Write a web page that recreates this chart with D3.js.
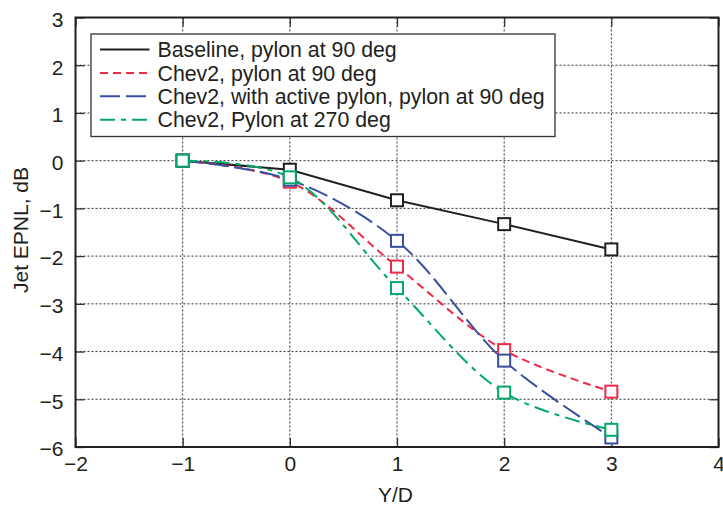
<!DOCTYPE html>
<html>
<head>
<meta charset="utf-8">
<script src="https://cdn.jsdelivr.net/npm/d3@7"></script>
<style>
  html, body { margin: 0; padding: 0; background: #fff; }
  svg { display: block; font-family: "Liberation Sans", Arial, Helvetica, sans-serif; }
</style>
</head>
<body>
<svg id="chart" width="723" height="508"></svg>
<script>
// Jet EPNL change versus pylon offset Y/D
const positions = [-1, 0, 1, 2, 3];
const seriesNames = [
  "Baseline, pylon at 90 deg",
  "Chev2, pylon at 90 deg",
  "Chev2, with active pylon, pylon at 90 deg",
  "Chev2, Pylon at 270 deg"
];
const baseline    = [0, -0.19, -0.83, -1.33, -1.86];
const chev2       = [0, -0.44, -2.22, -3.97, -4.84];
const chev2Active = [0, -0.40, -1.68, -4.19, -5.80];
const chev2P270   = [0, -0.35, -2.67, -4.86, -5.64];
const xTicks = [-2, -1, 0, 1, 2, 3, 4];
const yTicks = [3, 2, 1, 0, -1, -2, -3, -4, -5, -6];

const colors = ["#231f20", "#ee2a44", "#3a4fa0", "#00a968"];
const dashes = ["none", "8,5", "20,6", "15,6,5,6"];
const values = [baseline, chev2, chev2Active, chev2P270];

const svg = d3.select("#chart");
const L = 75.5, R = 718.5, T = 17.5, B = 447;
const fontSize = "21px";
const ink = "#231f20";

const x = d3.scaleLinear().domain([-2, 4]).range([L, R]);
const y = d3.scaleLinear().domain([-6, 3]).range([B, T]);
const minus = d => d < 0 ? "\u2212" + Math.abs(d) : d;

// dotted grid
const grid = svg.append("g");
grid.selectAll("line.gx").data(xTicks.slice(1, -1)).join("line")
  .attr("x1", d => x(d)).attr("x2", d => x(d)).attr("y1", T).attr("y2", B)
  .attr("stroke", "#333").attr("stroke-width", 1).attr("stroke-dasharray", "2,2");
grid.selectAll("line.gy").data(yTicks.slice(1, -1)).join("line")
  .attr("y1", d => y(d)).attr("y2", d => y(d)).attr("x1", L).attr("x2", R)
  .attr("stroke", "#333").attr("stroke-width", 1).attr("stroke-dasharray", "2,2");

// axes with inward ticks on all four sides
const tickLen = 9;
const axB = svg.append("g").attr("transform", `translate(0,${B})`)
  .call(d3.axisBottom(x).tickValues(xTicks).tickSize(-tickLen).tickPadding(9).tickFormat(minus));
const axL = svg.append("g").attr("transform", `translate(${L},0)`)
  .call(d3.axisLeft(y).tickValues(yTicks).tickSize(-tickLen).tickPadding(12).tickFormat(minus));
const axT = svg.append("g").attr("transform", `translate(0,${T})`)
  .call(d3.axisTop(x).tickValues(xTicks).tickSize(-tickLen).tickFormat(""));
const axR = svg.append("g").attr("transform", `translate(${R},0)`)
  .call(d3.axisRight(y).tickValues(yTicks).tickSize(-tickLen).tickFormat(""));
[axB, axL, axT, axR].forEach(a => {
  a.select(".domain").remove();
  a.selectAll(".tick line").attr("stroke", "#333").attr("stroke-width", 1.3);
  a.selectAll("text").attr("fill", ink).style("font-size", fontSize)
    .style("font-family", "'Liberation Sans', Arial, sans-serif");
});
axL.selectAll("text").attr("dy", "0.42em");

// frame
svg.append("rect").attr("x", L).attr("y", T).attr("width", R - L).attr("height", B - T)
  .attr("fill", "none").attr("stroke", ink).attr("stroke-width", 2);

// series: straight segments for the baseline, smooth curves for the chevron cases
const smooth = d3.line().x(d => x(d[0])).y(d => y(d[1])).curve(d3.curveCatmullRom.alpha(0.5));
const straight = d3.line().x(d => x(d[0])).y(d => y(d[1]));
values.forEach((vals, i) => {
  const pts = positions.map((p, j) => [p, vals[j]]);
  svg.append("path").datum(pts)
    .attr("d", i === 0 ? straight : smooth)
    .attr("fill", "none").attr("stroke", colors[i]).attr("stroke-width", 2)
    .attr("stroke-dasharray", dashes[i]);
});
values.forEach((vals, i) => {
  const pts = positions.map((p, j) => [p, vals[j]]);
  svg.append("g").selectAll("rect").data(pts).join("rect")
    .attr("x", d => x(d[0]) - 6).attr("y", d => y(d[1]) - 6)
    .attr("width", 12).attr("height", 12)
    .attr("fill", "#fff").attr("stroke", colors[i]).attr("stroke-width", 2);
});

// legend
const lg = svg.append("g");
lg.append("rect").attr("x", 91).attr("y", 34).attr("width", 464).attr("height", 102.5)
  .attr("fill", "#fff").attr("stroke", "#333").attr("stroke-width", 1.3);
seriesNames.forEach((name, i) => {
  const yy = 49.5 + i * 23.4;
  lg.append("line").attr("x1", 100).attr("x2", 149.5).attr("y1", yy).attr("y2", yy)
    .attr("stroke", colors[i]).attr("stroke-width", 2).attr("stroke-dasharray", dashes[i]);
  lg.append("text").attr("x", 157.5).attr("y", yy).attr("dy", "0.36em")
    .attr("fill", ink).style("font-size", "21.3px").text(name);
});

// axis titles
svg.append("text").attr("x", 395.5).attr("y", 501.5).attr("text-anchor", "middle")
  .attr("fill", ink).style("font-size", fontSize).text("Y/D");
svg.append("text").attr("transform", `translate(28,230) rotate(-90)`)
  .attr("text-anchor", "middle").attr("fill", ink).style("font-size", fontSize)
  .text("Jet EPNL, dB");
</script>
</body>
</html>
